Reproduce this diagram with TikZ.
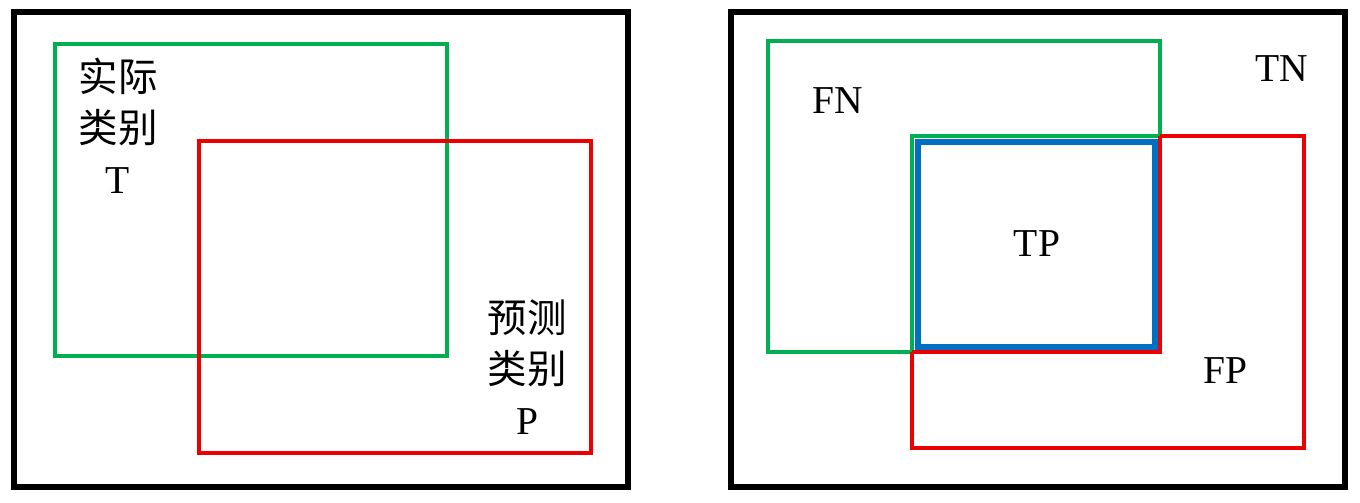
\documentclass[tikz,border=0pt]{standalone}
\usepackage{fontspec}
\setmainfont{Liberation Serif}
\newfontfamily\cjk{Noto Sans CJK SC}
\usepackage{xcolor}
\definecolor{setgreen}{RGB}{0,176,80}
\definecolor{setred}{RGB}{236,0,0}
\definecolor{setblue}{RGB}{0,112,192}
\tikzstyle{frame} = [draw=black, line width=3.2pt]
\tikzstyle{actual} = [draw=setgreen, line width=2.8pt]
\tikzstyle{predicted} = [draw=setred, line width=2.8pt]
\tikzstyle{hit} = [draw=setblue, line width=3pt]
\tikzstyle{setlabel} = [align=center, inner sep=0pt, font=\fontsize{22.5}{29}\selectfont]

\begin{document}
\begin{tikzpicture}[x=0.02cm, y=-0.02cm]
\useasboundingbox (0,0) rectangle (1360,503);
% left panel
\draw[frame] (14,12) rectangle (628,487);
\draw[actual] (55,44) rectangle (447,356);
\draw[predicted] (199,141) rectangle (591,453);
\node[setlabel] (actlabel) at (118,126) {{\cjk 实际}\\{\cjk 类别}\\T};
\node[setlabel] (predlabel) at (527,367) {{\cjk 预测}\\{\cjk 类别}\\P};
% right panel
\draw[frame] (731,12) rectangle (1345,487);
\draw[actual] (768,41) rectangle (1160,352);
\draw[predicted] (912,136) rectangle (1304,448);
\draw[actual] (912,352) -- (912,136) -- (1160,136);
\draw[predicted] (1160,136) -- (1160,352) -- (912,352);
\draw[hit] (918,142) rectangle (1155,347);
\node[setlabel] (fn) at (838,101) {FN};
\node[setlabel] (tn) at (1282,69) {TN};
\node[setlabel] (tp) at (1037,244) {TP};
\node[setlabel] (fp) at (1225,371) {FP};
\end{tikzpicture}
\end{document}
